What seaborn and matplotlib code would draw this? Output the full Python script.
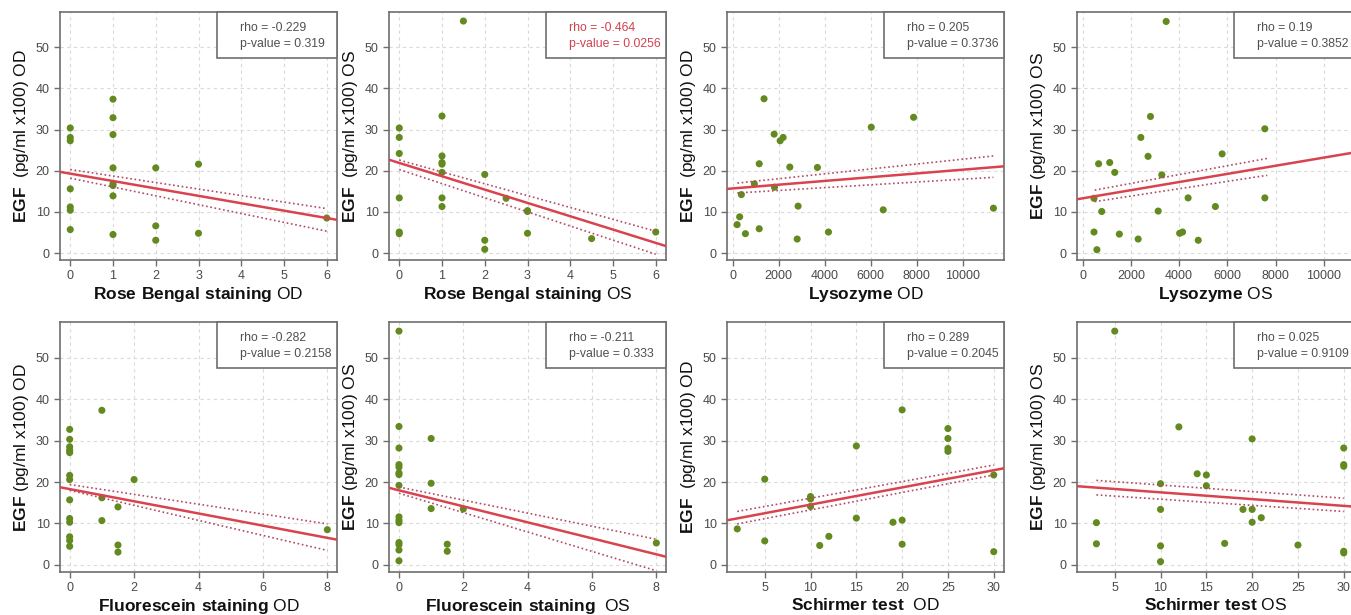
import numpy as np
import pandas as pd
import matplotlib
matplotlib.use("Agg")
import matplotlib.pyplot as plt
from matplotlib.patches import Rectangle
import seaborn as sns

sns.set_style("white")
plt.rcParams['font.family'] = ['Liberation Sans', 'DejaVu Sans']
plt.rcParams['mathtext.fontset'] = 'custom'
plt.rcParams['mathtext.rm'] = 'Liberation Sans'
plt.rcParams['mathtext.bf'] = 'Liberation Sans:bold'

# Rose Bengal staining OD
rb_od_x = [0, 0, 0, 0, 0, 0, 0, 1, 1, 1, 1, 1, 1, 1, 1, 2, 2, 2, 3, 3, 6]
rb_od_y = [30.4, 28.1, 27.3, 15.6, 11.2, 10.4, 5.7, 37.4, 32.9, 28.8, 20.7, 16.8, 16.4, 13.9, 4.5,
           20.7, 6.6, 3.1, 21.6, 4.8, 8.5]
rb_od_fit = [19.3, -1.8]            # intercept, slope
rb_od_band = [[0, 6], [20.3, 10.8], [18.2, 5.3]]
rb_od_stats = ["rho = -0.229", "p-value = 0.319"]

# Rose Bengal staining OS
rb_os_x = [0, 0, 0, 0, 0, 0, 1, 1, 1, 1, 1, 1, 1, 1.5, 2, 2, 2, 2.5, 3, 3, 3, 4.5, 6]
rb_os_y = [30.4, 28.1, 24.2, 13.4, 5.1, 4.7, 33.3, 23.6, 22.0, 21.6, 19.6, 13.4, 11.3, 56.4,
           19.1, 3.1, 0.9, 13.3, 10.3, 10.1, 4.8, 3.5, 5.1]
rb_os_fit = [21.9, -3.24]
rb_os_band = [[0, 6], [22.6, 5.3], [20.3, -0.3]]
rb_os_stats = ["rho = -0.464", "p-value = 0.0256"]

# Lysozyme OD
ly_od_x = [190, 300, 375, 550, 940, 1150, 1150, 1360, 1800, 1815, 2060, 2190, 2480, 2800, 2840,
           3680, 4160, 6020, 6540, 7860, 11330]
ly_od_y = [6.9, 8.8, 14.2, 4.7, 16.8, 21.7, 5.9, 37.5, 28.9, 16.0, 27.3, 28.1, 20.9, 3.4, 11.4,
           20.8, 5.1, 30.6, 10.5, 33.0, 10.9]
ly_od_fit = [15.7, 0.000456]
ly_od_band = [[200, 11330], [17.0, 23.6], [14.6, 18.4]]
ly_od_stats = ["rho = 0.205", "p-value = 0.3736"]

# Lysozyme OS
ly_os_x = [3460, 2810, 7550, 2410, 2710, 5780, 660, 1120, 1330, 3280, 470, 4370, 7550, 5500, 790,
           3130, 470, 1520, 4020, 4140, 2300, 4790, 590]
ly_os_y = [56.3, 33.2, 30.2, 28.1, 23.5, 24.1, 21.7, 22.0, 19.6, 19.0, 13.3, 13.4, 13.4, 11.3, 10.1,
           10.2, 5.1, 4.6, 4.8, 5.1, 3.4, 3.1, 0.8]
ly_os_fit = [13.3, 0.00099]
ly_os_band = [[500, 7650], [15.3, 23.0], [12.5, 18.9]]
ly_os_stats = ["rho = 0.19", "p-value = 0.3852"]

# Fluorescein staining OD
fl_od_x = [0, 0, 0, 0, 0, 0, 0, 0, 0, 0, 0, 0, 0, 1, 1, 1, 1.5, 1.5, 1.5, 2, 8]
fl_od_y = [32.7, 30.3, 28.5, 27.7, 27.1, 21.6, 20.6, 15.7, 11.2, 10.3, 6.8, 5.9, 4.5,
           37.3, 16.2, 10.7, 14.0, 4.8, 3.1, 20.6, 8.5]
fl_od_fit = [18.3, -1.47]
fl_od_band = [[0, 8], [19.4, 9.9], [18.0, 3.5]]
fl_od_stats = ["rho = -0.282", "p-value = 0.2158"]

# Fluorescein staining OS
fl_os_x = [0, 0, 0, 0, 0, 0, 0, 0, 0, 0, 0, 0, 0, 0, 0, 1, 1, 1, 1.5, 1.5, 2, 8]
fl_os_y = [56.4, 33.4, 28.2, 24.2, 23.6, 22.2, 21.8, 19.2, 11.6, 10.8, 10.2, 5.4, 4.9, 3.6, 1.0,
           30.5, 19.7, 13.6, 5.0, 3.3, 13.5, 5.3]
fl_os_fit = [18.0, -1.93]
fl_os_band = [[0, 8], [18.8, 6.2], [17.3, -1.4]]
fl_os_stats = ["rho = -0.211", "p-value = 0.333"]

# Schirmer test OD
sc_od_x = [2, 5, 5, 10, 10, 10, 11, 12, 15, 15, 19, 20, 20, 20, 25, 25, 25, 25, 30, 30]
sc_od_y = [8.7, 20.7, 5.8, 16.5, 15.9, 14.1, 4.7, 6.9, 28.7, 11.3, 10.3, 37.4, 10.8, 5.0,
           32.9, 30.5, 28.1, 27.4, 21.7, 3.2]
sc_od_fit = [10.4, 0.415]
sc_od_band = [[2, 30], [12.9, 24.1], [9.9, 21.7]]
sc_od_stats = ["rho = 0.289", "p-value = 0.2045"]

# Schirmer test OS
sc_os_x = [5, 12, 20, 30, 30, 30, 14, 15, 15, 10, 3, 3, 10, 10, 10, 17, 19, 20, 20, 21, 25, 30, 30]
sc_os_y = [56.4, 33.3, 30.4, 28.2, 24.2, 23.8, 22.0, 21.7, 19.1, 19.6, 10.2, 5.1, 13.4, 4.6, 0.8,
           5.2, 13.4, 13.4, 10.3, 11.4, 4.8, 3.3, 2.9]
sc_os_fit = [19.14, -0.163]
sc_os_band = [[3, 30], [20.4, 16.1], [16.9, 12.9]]
sc_os_stats = ["rho = 0.025", "p-value = 0.9109"]

panels = [
    (rb_od_x, rb_od_y, rb_od_fit, rb_od_band, rb_od_stats, r"$\bf{Rose\ Bengal\ staining}$ OD",
     r"$\bf{EGF}$  (pg/ml x100) OD", (-0.24, 6.24), list(range(0, 7))),
    (rb_os_x, rb_os_y, rb_os_fit, rb_os_band, rb_os_stats, r"$\bf{Rose\ Bengal\ staining}$ OS",
     r"$\bf{EGF}$  (pg/ml x100) OS", (-0.24, 6.24), list(range(0, 7))),
    (ly_od_x, ly_od_y, ly_od_fit, ly_od_band, ly_od_stats, r"$\bf{Lysozyme}$ OD",
     r"$\bf{EGF}$  (pg/ml x100) OD", (-250, 11790), list(range(0, 10001, 2000))),
    (ly_os_x, ly_os_y, ly_os_fit, ly_os_band, ly_os_stats, r"$\bf{Lysozyme}$ OS",
     r"$\bf{EGF}$ (pg/ml x100) OS", (-235, 11245), list(range(0, 10001, 2000))),
    (fl_od_x, fl_od_y, fl_od_fit, fl_od_band, fl_od_stats, r"$\bf{Fluorescein\ staining}$ OD",
     r"$\bf{EGF}$ (pg/ml x100) OD", (-0.3, 8.3), [0, 2, 4, 6, 8]),
    (fl_os_x, fl_os_y, fl_os_fit, fl_os_band, fl_os_stats, r"$\bf{Fluorescein\ staining}$  OS",
     r"$\bf{EGF}$ (pg/ml x100) OS", (-0.31, 8.3), [0, 2, 4, 6, 8]),
    (sc_od_x, sc_od_y, sc_od_fit, sc_od_band, sc_od_stats, r"$\bf{Schirmer\ test}$  OD",
     r"$\bf{EGF}$  (pg/ml x100) OD", (0.88, 31.12), [5, 10, 15, 20, 25, 30]),
    (sc_os_x, sc_os_y, sc_os_fit, sc_os_band, sc_os_stats, r"$\bf{Schirmer\ test}$ OS",
     r"$\bf{EGF}$ (pg/ml x100) OS", (0.88, 31.12), [5, 10, 15, 20, 25, 30]),
]

W, H = 1351, 615
fig = plt.figure(figsize=(W / 100, H / 100), dpi=100)
lefts = [60, 389, 727, 1077]
rows = [(12, 260), (322, 572)]
aw = 277

gray = '#6e6e6e'
for i, (x, y, fit, band, stats_txt, xlab, ylab, xlim, xticks) in enumerate(panels):
    r, c = divmod(i, 4)
    top, bot = rows[r]
    ax = fig.add_axes([lefts[c] / W, (H - bot) / H, aw / W, (bot - top) / H])
    df = pd.DataFrame({'x': x, 'y': y})
    ax.set_xlim(*xlim)
    ax.set_ylim(-1.7, 58.6)
    ax.set_xticks(xticks)
    ax.set_yticks([0, 10, 20, 30, 40, 50])
    ax.grid(True, color='#dadada', linestyle=(0, (3, 3)), linewidth=0.8)
    ax.set_axisbelow(True)
    sns.scatterplot(data=df, x='x', y='y', ax=ax, color='#628a1f', s=26, edgecolor='none', zorder=3)
    ax.axline((0, fit[0]), slope=fit[1], color='#d9434f', lw=1.8, zorder=4)
    ax.plot(band[0], band[1], color='#b24a63', lw=1.2, linestyle=(0, (1, 1.6)), zorder=4)
    ax.plot(band[0], band[2], color='#b24a63', lw=1.2, linestyle=(0, (1, 1.6)), zorder=4)
    for s in ax.spines.values():
        s.set_color(gray)
        s.set_linewidth(1.2)
    ax.tick_params(axis='both', colors=gray, labelcolor='#4a4a4a', labelsize=9, length=4, width=1,
                   direction='out', left=True, bottom=True)
    ax.set_xlabel(xlab, fontsize=12.5, color='#111111', labelpad=2)
    ax.set_ylabel(ylab, fontsize=12.5, color='#111111', labelpad=3)
    txt_col = '#d0404f' if i == 1 else '#505050'
    ax.add_patch(Rectangle((0.565, 0.815), 0.435, 0.185, transform=ax.transAxes, facecolor='white',
                           edgecolor=gray, lw=1.2, zorder=5, clip_on=False))
    ax.text(0.65, 0.937, stats_txt[0], transform=ax.transAxes, fontsize=8.8, color=txt_col,
            va='center', ha='left', zorder=6)
    ax.text(0.65, 0.87, stats_txt[1], transform=ax.transAxes, fontsize=8.8, color=txt_col,
            va='center', ha='left', zorder=6)

fig.savefig("out.png", dpi=100)
